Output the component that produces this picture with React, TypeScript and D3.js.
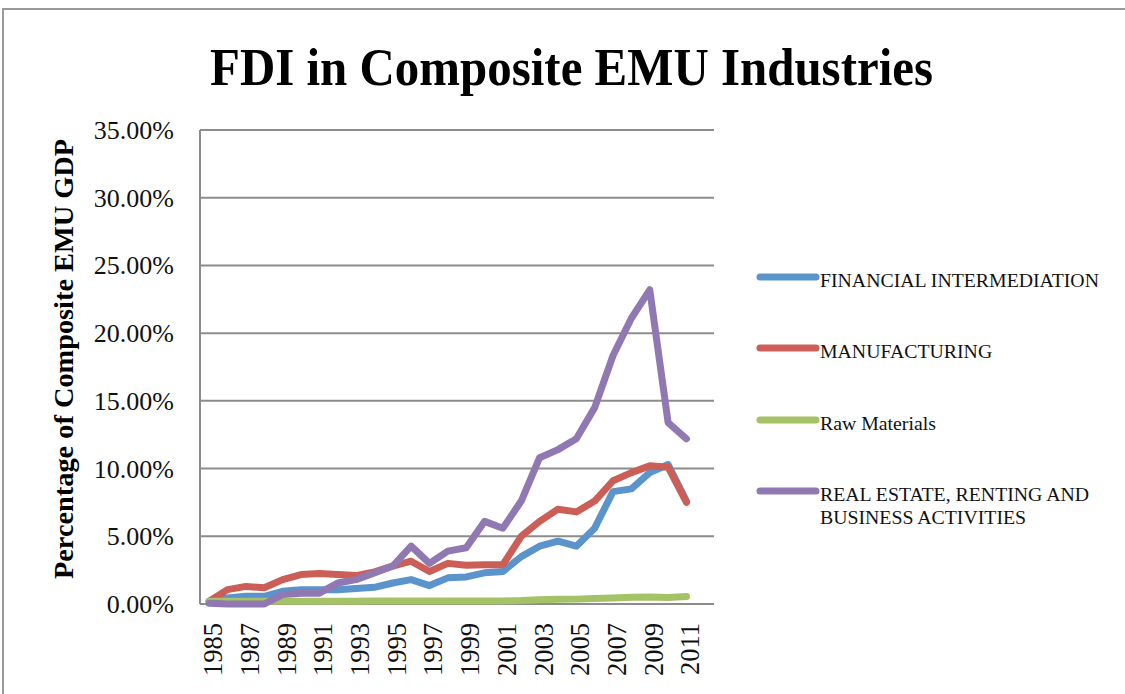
import React from "react";
import * as d3 from "d3";

const categories = [
  "1985", "1986", "1987", "1988", "1989", "1990", "1991", "1992", "1993", "1994",
  "1995", "1996", "1997", "1998", "1999", "2000", "2001", "2002", "2003", "2004",
  "2005", "2006", "2007", "2008", "2009", "2010", "2011", "2012",
];

const financial = [0.2, 0.45, 0.57, 0.57, 0.94, 1.06, 1.06, 1.06, 1.14, 1.23, 1.55, 1.8, 1.36, 1.93, 2.0, 2.3, 2.4, 3.5, 4.27, 4.64, 4.27, 5.6, 8.3, 8.5, 9.7, 10.3, 7.6];
const manufacturing = [0.2, 1.06, 1.3, 1.2, 1.8, 2.17, 2.25, 2.17, 2.1, 2.37, 2.8, 3.16, 2.4, 3.0, 2.86, 2.9, 2.9, 5.0, 6.1, 7.0, 6.8, 7.6, 9.1, 9.7, 10.2, 10.1, 7.5];
const rawMaterials = [0.2, 0.2, 0.2, 0.2, 0.2, 0.2, 0.2, 0.2, 0.2, 0.22, 0.22, 0.22, 0.22, 0.22, 0.22, 0.22, 0.22, 0.25, 0.32, 0.35, 0.36, 0.4, 0.45, 0.5, 0.52, 0.48, 0.55];
const realEstate = [0.05, 0, 0, 0, 0.7, 0.8, 0.8, 1.55, 1.8, 2.3, 2.8, 4.27, 3.0, 3.9, 4.15, 6.1, 5.6, 7.6, 10.8, 11.4, 12.2, 14.5, 18.35, 21.1, 23.2, 13.4, 12.2];

const seriesNames = [
  "FINANCIAL INTERMEDIATION",
  "MANUFACTURING",
  "Raw Materials",
  "REAL ESTATE, RENTING AND BUSINESS ACTIVITIES",
];
const legendLines = [
  ["FINANCIAL INTERMEDIATION"],
  ["MANUFACTURING"],
  ["Raw Materials"],
  ["REAL ESTATE, RENTING AND", "BUSINESS ACTIVITIES"],
];
const seriesValues = [financial, manufacturing, rawMaterials, realEstate];
const seriesColors = ["#5B93CB", "#CB5E56", "#A5C266", "#9079B2"];

const yTicks = [0, 5, 10, 15, 20, 25, 30, 35];
const xTickLabels = ["1985", "1987", "1989", "1991", "1993", "1995", "1997", "1999", "2001", "2003", "2005", "2007", "2009", "2011"];

const FONT = '"Liberation Serif", "Times New Roman", serif';

export default function App() {
  const x = d3.scaleBand<string>().domain(categories).range([200, 714]).padding(0);
  const y = d3.scaleLinear().domain([0, 35]).range([604, 130]);
  const bw = x.bandwidth();
  const cx = (c: string) => (x(c) as number) + bw / 2;

  const line = d3
    .line<number>()
    .x((_, i) => cx(categories[i]))
    .y((v) => y(v));

  const legendY = [277, 348, 420, 491];

  return (
    <svg
      width={1125}
      height={694}
      style={{ position: "absolute", left: 0, top: 0, background: "#fff" }}
      fontFamily={FONT}
    >
      <rect x={0} y={0} width={1125} height={694} fill="#fff" />
      <path d="M3,694 V9 H1125" fill="none" stroke="#9a9a9a" strokeWidth={2} />

      <text
        x={571.5}
        y={85}
        textAnchor="middle"
        fontSize={52}
        fontWeight="bold"
        textLength={723}
        lengthAdjust="spacingAndGlyphs"
        fill="#000"
      >
        FDI in Composite EMU Industries
      </text>

      {yTicks.map((t) => (
        <line key={"g" + t} x1={200} x2={714} y1={y(t)} y2={y(t)} stroke="#8c8c8c" strokeWidth={2} />
      ))}
      <line x1={200} x2={200} y1={y(35)} y2={y(0)} stroke="#8c8c8c" strokeWidth={2} />

      {yTicks.map((t) => (
        <text key={"t" + t} x={174} y={y(t) + 9} textAnchor="end" fontSize={26} fill="#111">
          {t.toFixed(2) + "%"}
        </text>
      ))}

      {xTickLabels.map((c) => (
        <text
          key={"x" + c}
          transform={`translate(${cx(c) + 13},623) rotate(-90)`}
          textAnchor="end"
          fontSize={26.5}
          fill="#111"
        >
          {c}
        </text>
      ))}

      <text
        transform="translate(73,359) rotate(-90)"
        textAnchor="middle"
        fontSize={28}
        fontWeight="bold"
        textLength={440}
        lengthAdjust="spacingAndGlyphs"
        fill="#000"
      >
        Percentage of Composite EMU GDP
      </text>

      {seriesValues.map((vals, si) => (
        <path
          key={"s" + si}
          d={line(vals) || ""}
          fill="none"
          stroke={seriesColors[si]}
          strokeWidth={7}
          strokeLinejoin="round"
          strokeLinecap="round"
        >
          <title>{seriesNames[si]}</title>
        </path>
      ))}

      {legendLines.map((lines, si) => (
        <g key={"l" + si}>
          <line
            x1={760}
            x2={816}
            y1={legendY[si]}
            y2={legendY[si]}
            stroke={seriesColors[si]}
            strokeWidth={7}
            strokeLinecap="round"
          />
          {lines.map((ln, li) => (
            <text key={li} x={820} y={legendY[si] + 10 + li * 23} fontSize={19.8} fill="#111">
              {ln}
            </text>
          ))}
        </g>
      ))}
    </svg>
  );
}
